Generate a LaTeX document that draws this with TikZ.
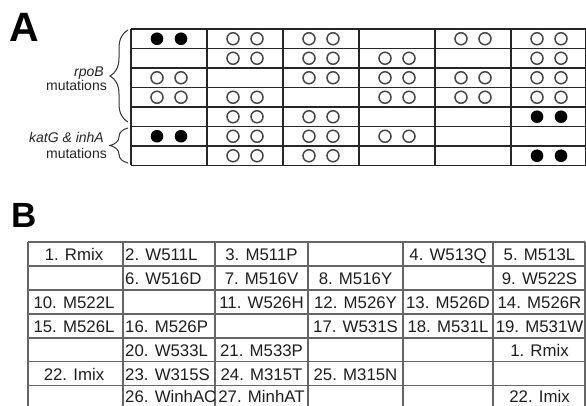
\documentclass[tikz,border=0pt]{standalone}
\usepackage{fontspec}
\setmainfont{Liberation Sans}
\usetikzlibrary{decorations.pathreplacing}
\begin{document}
\begin{tikzpicture}[x=1pt,y=-1pt,
  gridA/.style={line width=1.2pt, draw=black!85},
  gridB/.style={line width=1.5pt, draw=black!60},
  dotopen/.style={circle, draw=black!72, line width=1.5pt, fill=white, minimum size=12pt, inner sep=0pt},
  dotfull/.style={circle, fill=black, minimum size=12.6pt, inner sep=0pt},
  celltext/.style={font=\fontsize{16.8}{20}\selectfont, text=black!88, inner sep=0pt, anchor=base},
  celltextL/.style={celltext, anchor=base west},
  labeltext/.style={font=\fontsize{14}{16}\selectfont, text=black!85, inner sep=0pt, anchor=base east},
  panelA/.style={font=\bfseries\fontsize{41}{41}\selectfont, inner sep=0pt, anchor=base west},
  panelB/.style={font=\bfseries\fontsize{35}{35}\selectfont, inner sep=0pt, anchor=base west},
  bracestyle/.style={decorate, decoration={brace, amplitude=18pt}, line width=1pt, draw=black!80}]
\useasboundingbox[fill=white] (0,0) rectangle (586,406);

% ---------- Panel A ----------
\node[panelA] (labA) at (9,42) {A};

\foreach \i in {0,...,7}
  \draw[gridA] (131,{29+19.5*\i}) -- (585.5,{29+19.5*\i});
\foreach \x in {131,207,283,359,435,511,585.5}
  \draw[gridA] (\x,29) -- (\x,165.5);

\foreach \c/\r in {2/1,3/1,5/1,6/1,2/2,3/2,4/2,6/2,1/3,3/3,4/3,5/3,6/3,1/4,2/4,4/4,5/4,6/4,2/5,3/5,2/6,3/6,4/6,2/7,3/7}{
  \node[dotopen] (o\c\r a) at ({93+76*\c-12},{19.25+19.5*\r}) {};
  \node[dotopen] (o\c\r b) at ({93+76*\c+12},{19.25+19.5*\r}) {};
}
\foreach \c/\r in {1/1,6/5,1/6,6/7}{
  \node[dotfull] (f\c\r a) at ({93+76*\c-12},{19.25+19.5*\r}) {};
  \node[dotfull] (f\c\r b) at ({93+76*\c+12},{19.25+19.5*\r}) {};
}

\node[labeltext] (rpob) at (104,77) {\itshape rpoB};
\node[labeltext] (mut1) at (107,91) {mutations};
\node[labeltext] (katg) at (104,143) {\itshape katG \& inhA};
\node[labeltext] (mut2) at (107,159) {mutations};

\coordinate (br1a) at (128,122);
\coordinate (br1b) at (128,30);
\coordinate (br2a) at (128,163);
\coordinate (br2b) at (128,128);
\draw[bracestyle] (br1a) -- (br1b);
\draw[bracestyle] (br2a) -- (br2b);

% ---------- Panel B ----------
\node[panelB] (labB) at (11,227) {B};

\foreach \y in {242,266,290,314,338,361.5,385.5}
  \draw[gridB] (28,\y) -- (585,\y);
\foreach \x in {28,123,215,308,403,493,585}
  \draw[gridB] (\x,242) -- (\x,406);

% column 1 (centred)
\foreach \n/\y/\t in {a/260.5/{1. Rmix},b/308.5/{10. M522L},c/332.5/{15. M526L},d/380/{22. Imix}}
  \node[celltext] (c1\n) at (74,\y) {\t};
% column 2 (left aligned)
\foreach \n/\y/\t in {a/260.5/{2. W511L},b/284.5/{6. W516D},c/332.5/{16. M526P},d/356.5/{20. W533L},e/380/{23. W315S},f/402.5/{26. WinhAC}}
  \node[celltextL] (c2\n) at (125,\y) {\t};
% column 3
\foreach \n/\y/\t in {a/260.5/{3. M511P},b/284.5/{7. M516V},c/308.5/{11. W526H},d/356.5/{21. M533P},e/380/{24. M315T},f/402.5/{27. MinhAT}}
  \node[celltext] (c3\n) at (261.5,\y) {\t};
% column 4
\foreach \n/\y/\t in {a/284.5/{8. M516Y},b/308.5/{12. M526Y},c/332.5/{17. W531S},d/380/{25. M315N}}
  \node[celltext] (c4\n) at (355.5,\y) {\t};
% column 5
\foreach \n/\y/\t in {a/260.5/{4. W513Q},b/308.5/{13. M526D},c/332.5/{18. M531L}}
  \node[celltext] (c5\n) at (448,\y) {\t};
% column 6
\foreach \n/\y/\t in {a/260.5/{5. M513L},b/284.5/{9. W522S},c/308.5/{14. M526R},d/332.5/{19. M531W},e/356.5/{1. Rmix},f/402.5/{22. Imix}}
  \node[celltext] (c6\n) at (539.5,\y) {\t};
\end{tikzpicture}
\end{document}
